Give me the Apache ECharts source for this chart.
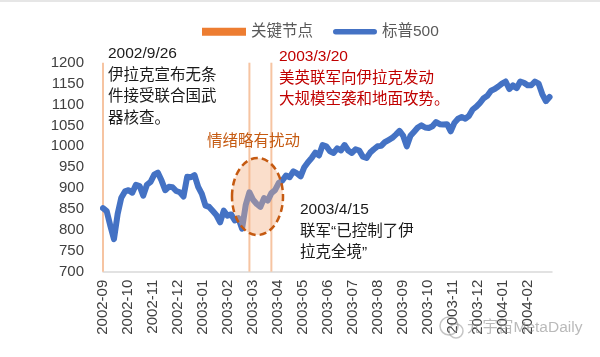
<!DOCTYPE html>
<html>
<head>
<meta charset="utf-8">
<script src="https://cdn.jsdelivr.net/npm/echarts@6/dist/echarts.min.js"></script>
<style>
html,body{margin:0;padding:0;background:#fff;}
#c{width:600px;height:357px;}
</style>
</head>
<body>
<div id="c"></div>
<script>
// x axis is measured in trading days counted from 2002/9/26
const tickLabels = ['2002-09','2002-10','2002-11','2002-12','2003-01','2003-02','2003-03','2003-04','2003-05','2003-06','2003-07','2003-08','2003-09','2003-10','2003-11','2003-12','2004-01','2004-02'];
const labelStep = 20.5;      // trading days between tick labels
const lastDay = 368;         // last trading day shown
const dayStep = 3;           // spacing of sampled S&P 500 values (trading days)
const keyDays = [0, 120, 138];           // 2002/9/26, 2003/3/20, 2003/4/15
const keyValues = [1200, 1200, 1200];
const spx = [
  852, 845, 810, 778, 838, 877, 892, 895, 889, 908,
  905, 882, 908, 915, 932, 937, 918, 895, 903, 902,
  893, 890, 880, 927, 926, 931, 903, 886, 858, 855,
  845, 835, 818, 846, 834, 837, 823, 828, 803, 860,
  890, 872, 862, 855, 876, 870, 888, 895, 912, 918,
  930, 926, 940, 935, 928, 950, 962, 972, 985, 978,
  1003, 1000, 988, 984, 995, 990, 1003, 990, 984, 993,
  990, 975, 972, 985, 993, 1000, 1001, 1010, 1015, 1020,
  1028, 1037, 1025, 1000, 1025, 1035, 1045, 1050, 1045, 1044,
  1048, 1058, 1053, 1052, 1053, 1036, 1056, 1066, 1070, 1066,
  1073, 1088, 1095, 1104, 1115, 1121, 1133, 1137, 1143, 1150,
  1155, 1137, 1146, 1139, 1155, 1152, 1146, 1146, 1155, 1150,
  1125, 1108, 1118
];
const seriesNames = ['关键节点', '标普500'];

const FONT = '"Liberation Sans", Arial, "Noto Sans CJK SC", sans-serif';
const lineData = spx.map((v, i) => [i * dayStep, v]);
const keyData = keyDays.map((d, i) => [d, keyValues[i]]);

const chart = echarts.init(document.getElementById('c'), null, {renderer: 'canvas'});

const txt = (x, y, text, color) => ({
  type: 'text', x: x, y: y, z: 100,
  style: {
    text: text, fill: color, font: '15.5px ' + FONT,
    lineHeight: 21.5, verticalAlign: 'top', align: 'left'
  }
});

chart.setOption({
  animation: false,
  backgroundColor: '#ffffff',
  textStyle: {fontFamily: FONT},
  grid: {left: 103, right: 48, top: 62.7, bottom: 85.3, containLabel: false},
  legend: {
    left: 197, top: 19, itemWidth: 44, itemHeight: 8, itemGap: 20,
    textStyle: {fontSize: 15.5, color: '#595959', fontFamily: FONT},
    data: [
      {name: seriesNames[0], icon: 'rect', itemStyle: {color: '#ed7d31'}},
      {name: seriesNames[1], icon: 'path://M3,0L45,0A3,3,0,0,1,45,6L3,6A3,3,0,0,1,3,0Z', itemStyle: {color: '#4472c4'}}
    ]
  },
  xAxis: {
    type: 'value', min: 0, max: lastDay, interval: labelStep,
    axisLine: {show: true, lineStyle: {color: '#d9d9d9', width: 1.5}},
    axisTick: {show: false},
    splitLine: {show: false},
    axisLabel: {
      rotate: 90, fontSize: 15, color: '#404040', margin: 8, fontFamily: FONT,
      showMaxLabel: false,
      formatter: function (v) {
        const k = Math.round(v / labelStep);
        return Math.abs(k * labelStep - v) < 0.01 && tickLabels[k] ? tickLabels[k] : '';
      }
    }
  },
  yAxis: {
    type: 'value', min: 700, max: 1200, interval: 50,
    axisLine: {show: false}, axisTick: {show: false}, splitLine: {show: false},
    axisLabel: {fontSize: 15, color: '#404040', margin: 19, fontFamily: FONT,
      formatter: function (v) { return String(v); }}
  },
  series: [
    {
      name: seriesNames[0], type: 'bar', data: keyData, barWidth: 2,
      itemStyle: {color: '#f6c4a2'}, z: 1
    },
    {
      name: seriesNames[1], type: 'line', data: lineData, showSymbol: false,
      symbol: 'none', smooth: false,
      lineStyle: {color: '#4472c4', width: 6, cap: 'round', join: 'round'},
      itemStyle: {color: '#4472c4'}, z: 2
    }
  ],
  graphic: [
    {type: 'rect', shape: {x: 0, y: 0, width: 600, height: 2}, style: {fill: '#e6e6e6'}, z: 100},
    {
      type: 'ellipse', z: 50,
      shape: {cx: 257.5, cy: 196.5, rx: 25.5, ry: 38.5},
      style: {fill: 'rgba(244,177,131,0.42)', stroke: '#c55a11', lineWidth: 2.5, lineDash: [7, 4]}
    },
    txt(108, 43.2, '2002/9/26\n伊拉克宣布无条\n件接受联合国武\n器核查。', '#1a1a1a'),
    txt(279, 46.2, '2003/3/20\n美英联军向伊拉克发动\n大规模空袭和地面攻势。', '#c00000'),
    txt(207, 131.2, '情绪略有扰动', '#c55a11'),
    txt(300, 199.2, '2003/4/15\n联军“已控制了伊\n拉克全境”', '#1a1a1a'),
    {
      type: 'circle', z: 100, shape: {cx: 449, cy: 326, r: 9},
      style: {fill: 'none', stroke: 'rgba(150,150,150,0.55)', lineWidth: 1.5}
    },
    {
      type: 'circle', z: 100, shape: {cx: 456, cy: 331, r: 7},
      style: {fill: 'none', stroke: 'rgba(150,150,150,0.55)', lineWidth: 1.5}
    },
    {
      type: 'text', x: 467, y: 328, z: 100,
      style: {text: '元宇宙MetaDaily', fill: 'rgba(140,140,140,0.6)', font: '15.5px ' + FONT, verticalAlign: 'middle'}
    }
  ]
});
</script>
</body>
</html>
